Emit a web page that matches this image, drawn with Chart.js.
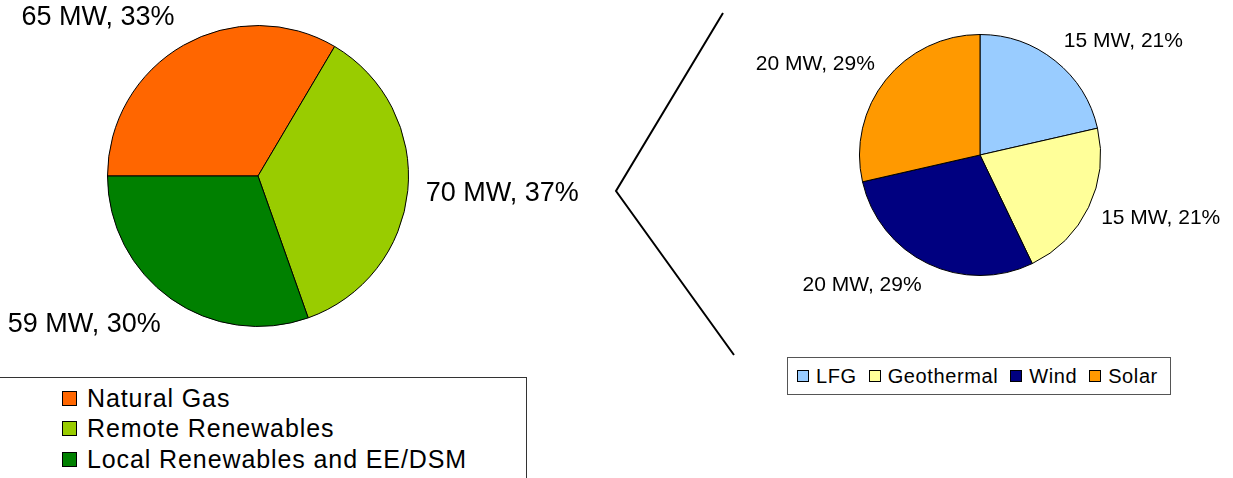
<!DOCTYPE html>
<html>
<head>
<meta charset="utf-8">
<script src="https://cdn.jsdelivr.net/npm/chart.js@4/dist/chart.umd.min.js"></script>
<style>
  html, body { margin: 0; padding: 0; background: #fff; }
  body { width: 1233px; height: 478px; position: relative; overflow: hidden;
         font-family: "Liberation Sans", Arial, sans-serif; color: #000; }
  canvas { position: absolute; left: 0; top: 0; }
  .legend { position: absolute; background: #fff; border: 1px solid #333; box-sizing: border-box; }
  #mixLegend { left: -1px; top: 377px; width: 528px; height: 120px; }
  #renewLegend { left: 787px; top: 357px; width: 384px; height: 38px; border-color: #555; }
  .row { position: absolute; display: flex; align-items: center; white-space: nowrap; }
  .sw { box-sizing: border-box; border: 1px solid #000; flex: none; }
  #mixLegend .row { left: 62px; font-size: 25px; letter-spacing: 0.9px; height: 30px; }
  #mixLegend .sw { width: 15px; height: 15px; margin-right: 10px; }
  #renewLegend .row { top: 0; height: 36px; font-size: 20px; letter-spacing: 0.6px; left: 9px; }
  #renewLegend .item { display: flex; align-items: center; margin-right: 12px; }
  #renewLegend .sw { width: 12px; height: 12px; margin-right: 7px; }
</style>
</head>
<body>
<canvas id="mix" width="1233" height="478"></canvas>
<canvas id="renew" width="1233" height="478"></canvas>
<div id="mixLegend" class="legend"></div>
<div id="renewLegend" class="legend"><div class="row"></div></div>
<script>
// Capacity mix (MW) and the breakdown of the local renewables
const mixLabels = ['Natural Gas', 'Remote Renewables', 'Local Renewables and EE/DSM'];
const mixMW = [65, 70, 59];
const mixPct = [33, 37, 30];
const mixColors = ['#FF6600', '#99CC00', '#008000'];

const renewLabels = ['LFG', 'Geothermal', 'Wind', 'Solar'];
const renewMW = [15, 15, 20, 20];
const renewPct = [21, 21, 29, 29];
const renewColors = ['#99CCFF', '#FFFF99', '#000080', '#FF9900'];

const FONT = '"Liberation Sans", Arial, sans-serif';

// Writes "N MW, P%" just outside each slice, on the side the slice faces
const sliceLabels = {
  id: 'sliceLabels',
  afterDatasetsDraw(chart, args, opts) {
    const ctx = chart.ctx;
    const meta = chart.getDatasetMeta(0);
    const ds = chart.data.datasets[0];
    ctx.save();
    ctx.font = opts.size + 'px ' + FONT;
    ctx.fillStyle = '#000';
    ctx.textBaseline = 'middle';
    meta.data.forEach((arc, i) => {
      const p = arc.getProps(['x', 'y', 'startAngle', 'endAngle', 'outerRadius'], true);
      const mid = (p.startAngle + p.endAngle) / 2;
      const dx = Math.cos(mid), dy = Math.sin(mid);
      const r = p.outerRadius + opts.gap;
      const ax = p.x + dx * r;
      const ay = p.y + dy * r;
      const h = opts.size;
      ctx.textAlign = dx >= 0 ? 'left' : 'right';
      const text = ds.data[i] + ' MW, ' + opts.pct[i] + '%';
      ctx.fillText(text, ax, ay + dy * h / 2);
    });
    ctx.restore();
  }
};

// Bracket joining the two pies
const bracket = {
  id: 'bracket',
  afterDraw(chart, args, opts) {
    const ctx = chart.ctx;
    ctx.save();
    ctx.strokeStyle = '#000';
    ctx.lineWidth = 2;
    ctx.lineJoin = 'miter';
    ctx.beginPath();
    opts.points.forEach((pt, i) => i ? ctx.lineTo(pt[0], pt[1]) : ctx.moveTo(pt[0], pt[1]));
    ctx.stroke();
    ctx.restore();
  }
};

function pieConfig(labels, values, colors, pct, rotation, padding, labelSize, gap, extra) {
  return {
    type: 'pie',
    data: {
      labels: labels,
      datasets: [{
        data: values,
        backgroundColor: colors,
        borderColor: '#000',
        borderWidth: 1
      }]
    },
    options: {
      responsive: false,
      animation: false,
      devicePixelRatio: 1,
      rotation: rotation,
      layout: { padding: padding },
      events: [],
      plugins: Object.assign({
        legend: { display: false },
        tooltip: { enabled: false },
        sliceLabels: { size: labelSize, gap: gap, pct: pct }
      }, extra || {})
    },
    plugins: [sliceLabels].concat(extra && extra.bracket ? [bracket] : [])
  };
}

new Chart(document.getElementById('mix'), pieConfig(
  mixLabels, mixMW, mixColors, mixPct, -90,
  { left: 107, top: 25, right: 824, bottom: 151 }, 27, 18,
  { bracket: { points: [[723, 13], [616, 191], [734, 355]] } }
));

new Chart(document.getElementById('renew'), pieConfig(
  renewLabels, renewMW, renewColors, renewPct, 0,
  { left: 859, top: 34, right: 132, bottom: 202 }, 21, 14
));

// Legends
const mixLegend = document.getElementById('mixLegend');
mixLabels.forEach((name, i) => {
  const row = document.createElement('div');
  row.className = 'row';
  row.style.top = (5 + i * 30.5) + 'px';
  row.innerHTML = '<span class="sw" style="background:' + mixColors[i] + '"></span><span>' + name + '</span>';
  mixLegend.appendChild(row);
});

const renewRow = document.querySelector('#renewLegend .row');
renewLabels.forEach((name, i) => {
  const item = document.createElement('span');
  item.className = 'item';
  item.innerHTML = '<span class="sw" style="background:' + renewColors[i] + '"></span><span>' + name + '</span>';
  renewRow.appendChild(item);
});
</script>
</body>
</html>
